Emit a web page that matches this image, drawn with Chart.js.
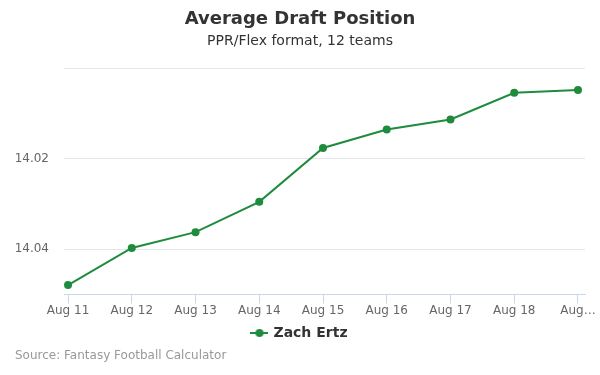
<!DOCTYPE html>
<html>
<head>
<meta charset="utf-8">
<script src="https://cdn.jsdelivr.net/npm/chart.js@4"></script>
<style>
  html, body { margin: 0; padding: 0; background: #fff; }
  #wrap { position: relative; width: 600px; height: 375px; }
  #source { position: absolute; left: 15px; top: 348px; font: 12px "DejaVu Sans", sans-serif; color: #999; }
</style>
</head>
<body>
<div id="wrap">
  <canvas id="adpChart" width="600" height="375"></canvas>
  <div id="source">Source: Fantasy Football Calculator</div>
</div>
<script>
// data
const dates = ["Aug 11", "Aug 12", "Aug 13", "Aug 14", "Aug 15", "Aug 16", "Aug 17", "Aug 18", "Aug 19"];
const tickLabels = ["Aug 11", "Aug 12", "Aug 13", "Aug 14", "Aug 15", "Aug 16", "Aug 17", "Aug 18", "Aug…"];
const ertzAdp = [14.0479, 14.0397, 14.0362, 14.0295, 14.0176, 14.0135, 14.0113, 14.0054, 14.0048];

const green = '#1f8c3d';
const font = '"DejaVu Sans", sans-serif';

// legend marker: line with a dot in the middle
function legendMarker() {
    const c = document.createElement('canvas');
    c.width = 18; c.height = 10;
    const g = c.getContext('2d');
    g.strokeStyle = green;
    g.lineWidth = 2;
    g.beginPath(); g.moveTo(0, 5); g.lineTo(18, 5); g.stroke();
    g.fillStyle = green;
    g.beginPath(); g.arc(9, 5, 4, 0, Math.PI * 2); g.fill();
    return c;
}

const ctx = document.getElementById('adpChart').getContext('2d');
new Chart(ctx, {
    type: 'line',
    data: {
        datasets: [{
            label: 'Zach Ertz',
            data: ertzAdp.map((v, i) => ({ x: i, y: v })),
            borderColor: green,
            backgroundColor: green,
            borderWidth: 2,
            pointRadius: 4,
            pointBorderWidth: 0,
            pointHoverRadius: 5,
            tension: 0,
            pointStyle: 'circle'
        }]
    },
    options: {
        responsive: false,
        animation: false,
        // equal side padding keeps title and legend centred on the page
        layout: { padding: { left: 15, right: 15, bottom: 25 } },
        scales: {
            x: {
                type: 'linear',
                min: -0.063,
                max: 8.11,
                border: { color: '#ccd6eb' },
                grid: { drawOnChartArea: false, drawTicks: true, tickLength: 9, color: '#ccd6eb' },
                ticks: {
                    stepSize: 1,
                    includeBounds: false,
                    autoSkip: false,
                    maxRotation: 0,
                    padding: 0,
                    color: '#666',
                    font: { family: font, size: 12 },
                    callback: v => tickLabels[v] || ''
                }
            },
            y: {
                reverse: true,
                min: 14.00,
                max: 14.05,
                afterFit: s => { s.width = 49; },
                border: { display: false },
                grid: { color: '#e6e6e6', drawTicks: false },
                ticks: {
                    stepSize: 0.02,
                    includeBounds: false,
                    padding: 15,
                    color: '#666',
                    font: { family: font, size: 12 },
                    callback: v => v < 14.01 ? '' : v.toFixed(2)
                }
            }
        },
        plugins: {
            title: {
                display: true,
                text: 'Average Draft Position',
                color: '#333',
                font: { family: font, size: 18, weight: 'bold' },
                padding: { top: 9, bottom: 2 }
            },
            subtitle: {
                display: true,
                text: 'PPR/Flex format, 12 teams',
                color: '#333',
                font: { family: font, size: 14 },
                padding: { bottom: 19 }
            },
            legend: {
                position: 'bottom',
                labels: {
                    color: '#333',
                    font: { family: font, size: 14, weight: 'bold' },
                    usePointStyle: true,
                    boxWidth: 18,
                    padding: 8,
                    generateLabels: chart => [{
                        text: 'Zach Ertz',
                        pointStyle: legendMarker(),
                        fontColor: '#333',
                        datasetIndex: 0
                    }]
                }
            },
            tooltip: { enabled: false }
        }
    }
});
</script>
</body>
</html>
